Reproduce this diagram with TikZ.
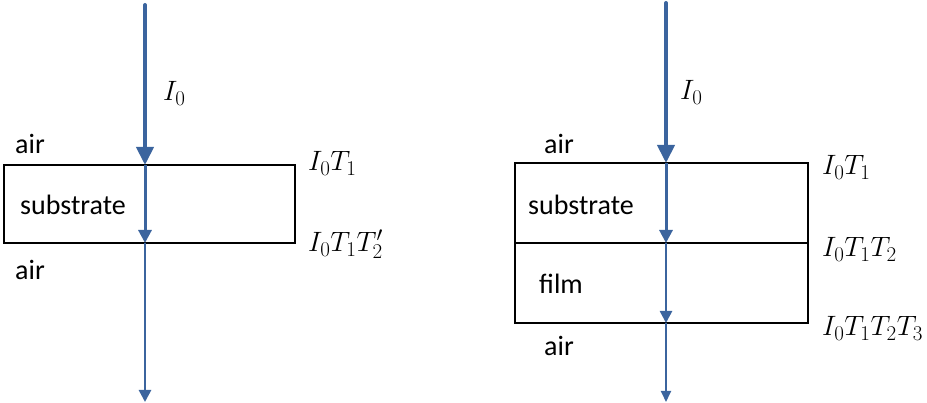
\documentclass[tikz,border=0pt]{standalone}
\usepackage{fix-cm}
\usepackage{fontspec}
\setmainfont{Carlito}
\DeclareMathSizes{28}{28}{21}{16}
\usetikzlibrary{arrows.meta}
\definecolor{beam}{RGB}{59,100,158}
\tikzset{
  box/.style={draw=black, line width=2.6pt, rectangle, outer sep=0pt, inner sep=0pt},
  lbl/.style={font=\fontsize{28}{32}\selectfont, inner sep=0pt},
  mlbl/.style={font=\fontsize{28}{32}\selectfont, inner sep=0pt, anchor=base west},
  beamA/.style={draw=beam, line width=4pt, line cap=round, -{Triangle[length=18pt,width=17pt]}},
  beamB/.style={draw=beam, line width=3pt, -{Triangle[length=13pt,width=13pt]}},
  beamC/.style={draw=beam, line width=2.6pt, -{Triangle[length=12pt,width=12pt]}},
  beamD/.style={draw=beam, line width=1.8pt, -{Triangle[length=11pt,width=10pt]}}
}
\begin{document}
\begin{tikzpicture}[x=1pt,y=-1pt]
\useasboundingbox (0,0) rectangle (927,403);
% left diagram
\node[box, minimum width=291, minimum height=78] (lbox) at (149.5,204) {};
\coordinate (l0) at (145,5);
\coordinate (l3) at (145,402);
\draw[beamA] (l0) -- (l0 |- lbox.north);
\draw[beamB] (l0 |- lbox.north) -- (l0 |- lbox.south);
\draw[beamC] (l0 |- lbox.south) -- (l3);
\node[lbl] (lair1) at (30,144) {air};
\node[lbl] (lsub) at (73,205) {substrate};
\node[lbl] (lair2) at (30,270) {air};
\node[mlbl] (lI0) at (163,101) {$I_0$};
\node[mlbl] (lT1) at (308,171) {$I_0T_1$};
\node[mlbl] (lT2) at (308,252) {$I_0T_1T'_2$};
% right diagram
\node[box, minimum width=293, minimum height=80] (rsub) at (661.5,203) {};
\node[box, minimum width=293, minimum height=80] (rfilm) at (661.5,283) {};
\coordinate (r0) at (666,3);
\coordinate (r4) at (666,402);
\draw[beamA] (r0) -- (r0 |- rsub.north);
\draw[beamB] (r0 |- rsub.north) -- (r0 |- rsub.south);
\draw[beamC] (r0 |- rfilm.north) -- (r0 |- rfilm.south);
\draw[beamD] (r0 |- rfilm.south) -- (r4);
\node[lbl] (rair1) at (559,144) {air};
\node[lbl] (rsubt) at (581,205) {substrate};
\node[lbl] (rfilmt) at (561,284) {film};
\node[lbl] (rair2) at (559,346) {air};
\node[mlbl] (rI0) at (680,100) {$I_0$};
\node[mlbl] (rT1) at (822,175) {$I_0T_1$};
\node[mlbl] (rT2) at (822,257) {$I_0T_1T_2$};
\node[mlbl] (rT3) at (822,336) {$I_0T_1T_2T_3$};
\end{tikzpicture}
\end{document}
